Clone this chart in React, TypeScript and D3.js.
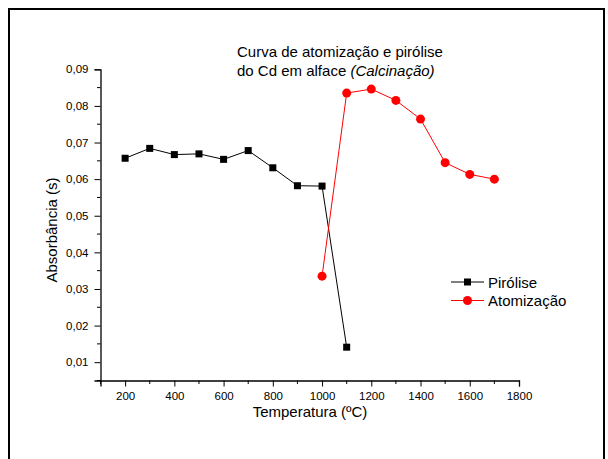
import React, { useEffect, useRef } from 'react';
import * as d3 from 'd3';

const pirTemps = [200, 300, 400, 500, 600, 700, 800, 900, 1000, 1100];
const pirValues = [0.0657, 0.0684, 0.0667, 0.0669, 0.0654, 0.0678, 0.0631, 0.0582, 0.0581, 0.0141];
const atoTemps = [1000, 1100, 1200, 1300, 1400, 1500, 1600, 1700];
const atoValues = [0.0335, 0.0835, 0.0846, 0.0815, 0.0764, 0.0645, 0.0613, 0.06];
const xTicks = [200, 400, 600, 800, 1000, 1200, 1400, 1600, 1800];
const yTicks = [0.01, 0.02, 0.03, 0.04, 0.05, 0.06, 0.07, 0.08, 0.09];

const App = () => {
  const svgRef = useRef<SVGSVGElement>(null);

  useEffect(() => {
    const svg = d3.select(svgRef.current);
    svg.selectAll('*').remove();

    const font = 'Liberation Sans, Arial, sans-serif';
    const left = 100.5, right = 519, top = 69.3, bottom = 380.5;

    // outer frame
    svg.append('rect')
      .attr('x', 9).attr('y', 9).attr('width', 595).attr('height', 470)
      .attr('fill', 'none').attr('stroke', '#000').attr('stroke-width', 2);

    const x = d3.scaleLinear().domain([100, 1800]).range([left, right]);
    const y = d3.scaleLinear().domain([0.005, 0.09]).range([bottom, top]);

    const fmt = (d: number) => d.toFixed(2).replace('.', ',');

    // minor ticks every 100 / 0.005
    const minorX = d3.range(100, 1801, 100).filter((v) => v % 200 !== 0);
    const minorY = d3.range(0.005, 0.0901, 0.01);

    const xAxis = svg.append('g').attr('transform', `translate(0,${bottom})`);
    xAxis.call(d3.axisBottom(x).tickValues(xTicks).tickSize(6).tickPadding(5).tickFormat((d) => String(d)));
    minorX.forEach((v) => {
      xAxis.append('line').attr('x1', x(v)).attr('x2', x(v)).attr('y1', 0).attr('y2', 3.5).attr('stroke', '#000');
    });

    const yAxis = svg.append('g').attr('transform', `translate(${left},0)`);
    yAxis.call(d3.axisLeft(y).tickValues(yTicks).tickSize(6).tickPadding(6).tickFormat((d) => fmt(d as number)));
    minorY.forEach((v) => {
      yAxis.append('line').attr('x1', 0).attr('x2', -3.5).attr('y1', y(v)).attr('y2', y(v)).attr('stroke', '#000');
    });

    svg.selectAll('.domain').attr('stroke', '#000').attr('stroke-width', 1.3);
    svg.selectAll('.tick text').attr('font-family', font).attr('font-size', 11.5).attr('fill', '#000');
    svg.selectAll('.tick line').attr('stroke', '#000');

    // axis titles
    svg.append('text')
      .attr('x', 310).attr('y', 417).attr('text-anchor', 'middle')
      .attr('font-family', font).attr('font-size', 15)
      .text('Temperatura (ºC)');
    svg.append('text')
      .attr('transform', 'translate(57,230) rotate(-90)').attr('text-anchor', 'middle')
      .attr('font-family', font).attr('font-size', 15)
      .text('Absorbância (s)');

    // title
    svg.append('text').attr('font-family', font).attr('font-size', 15)
      .attr('x', 237).attr('y', 57).text('Curva de atomização e pirólise');
    const l2 = svg.append('text').attr('font-family', font).attr('font-size', 15).attr('x', 237).attr('y', 76);
    l2.append('tspan').text('do Cd em alface ');
    l2.append('tspan').attr('font-style', 'italic').text('(Calcinação)');

    const line = d3.line<[number, number]>().x((d) => x(d[0])).y((d) => y(d[1]));

    const pir: [number, number][] = pirTemps.map((t, i) => [t, pirValues[i]]);
    const ato: [number, number][] = atoTemps.map((t, i) => [t, atoValues[i]]);

    svg.append('path').datum(pir).attr('d', line).attr('fill', 'none').attr('stroke', '#000').attr('stroke-width', 1);
    svg.append('path').datum(ato).attr('d', line).attr('fill', 'none').attr('stroke', '#ff0000').attr('stroke-width', 1);

    const sq = 7;
    svg.selectAll('.pir').data(pir).join('rect').attr('class', 'pir')
      .attr('x', (d) => x(d[0]) - sq / 2).attr('y', (d) => y(d[1]) - sq / 2)
      .attr('width', sq).attr('height', sq).attr('fill', '#000');
    svg.selectAll('.ato').data(ato).join('circle').attr('class', 'ato')
      .attr('cx', (d) => x(d[0])).attr('cy', (d) => y(d[1])).attr('r', 4.5).attr('fill', '#ff0000');

    // legend
    const lg = svg.append('g').attr('transform', 'translate(451,282)');
    lg.append('line').attr('x1', 0).attr('x2', 33).attr('y1', 0).attr('y2', 0).attr('stroke', '#000');
    lg.append('rect').attr('x', 16.5 - sq / 2).attr('y', -sq / 2).attr('width', sq).attr('height', sq).attr('fill', '#000');
    lg.append('text').attr('x', 37).attr('y', 5.5).attr('font-family', font).attr('font-size', 15).text('Pirólise');
    lg.append('line').attr('x1', 0).attr('x2', 33).attr('y1', 18.5).attr('y2', 18.5).attr('stroke', '#ff0000');
    lg.append('circle').attr('cx', 16.5).attr('cy', 18.5).attr('r', 4.5).attr('fill', '#ff0000');
    lg.append('text').attr('x', 37).attr('y', 24).attr('font-family', font).attr('font-size', 15).text('Atomização');
  }, []);

  return (
    <svg
      ref={svgRef}
      width={608}
      height={459}
      style={{ position: 'absolute', left: 0, top: 0, background: '#fff' }}
    />
  );
};

export default App;
